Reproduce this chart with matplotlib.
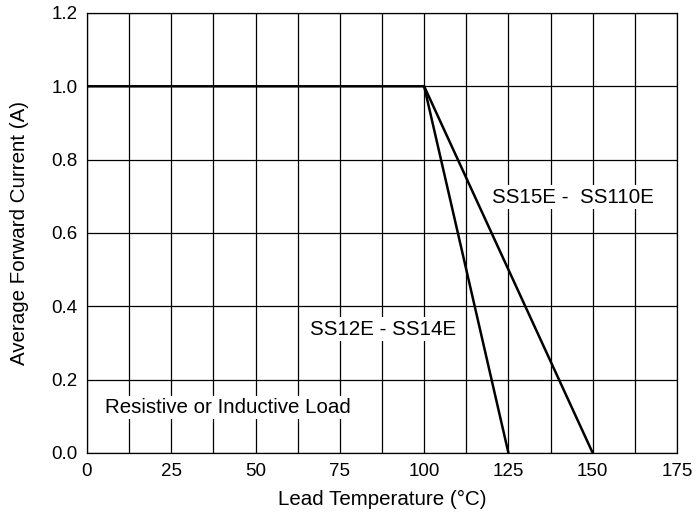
import numpy as np
import matplotlib
matplotlib.use("Agg")
import matplotlib.pyplot as plt

plt.rcParams['font.family'] = ['Liberation Sans', 'DejaVu Sans']

# derating curves
temp_a = [0, 100, 125]
current_a = [1.0, 1.0, 0.0]
temp_b = [100, 150]
current_b = [1.0, 0.0]

x_ticks = [0, 25, 50, 75, 100, 125, 150, 175]
y_ticks = [0.0, 0.2, 0.4, 0.6, 0.8, 1.0, 1.2]

fig = plt.figure(figsize=(6.96, 5.22), dpi=100)
ax = fig.add_axes([0.125, 0.1322, 0.8477, 0.843])

# grid: vertical every 12.5, horizontal every 0.2
for x in np.arange(0, 175.1, 12.5):
    ax.axvline(x, color='black', lw=0.9, zorder=1)
for y in y_ticks:
    ax.axhline(y, color='black', lw=0.9, zorder=1)

ax.plot(temp_a, current_a, color='black', lw=1.8, zorder=3)
ax.plot(temp_b, current_b, color='black', lw=1.8, zorder=3)

ax.set_xlim(0, 175)
ax.set_ylim(0, 1.2)
ax.set_xticks(x_ticks)
ax.set_yticks(y_ticks)
ax.set_xticklabels([str(v) for v in x_ticks])
ax.set_yticklabels([f"{v:.1f}" for v in y_ticks])
ax.tick_params(length=0, labelsize=13.5, pad=7)
for s in ax.spines.values():
    s.set_linewidth(0.9)

box = dict(facecolor='white', edgecolor='none', pad=1.5)
ax.text(5.3, 0.125, "Resistive or Inductive Load", fontsize=14.8, va='center', ha='left', bbox=box, zorder=4)
ax.text(66.2, 0.338, "SS12E - SS14E", fontsize=14.8, va='center', ha='left', bbox=box, zorder=4)
ax.text(120.2, 0.698, "SS15E -  SS110E", fontsize=14.8, va='center', ha='left', bbox=box, zorder=4)

ax.set_xlabel("Lead Temperature (°C)", fontsize=14.8, labelpad=7.5)
ax.set_ylabel("Average Forward Current (A)", fontsize=14.8, labelpad=16)

fig.savefig("out.png", dpi=100)
